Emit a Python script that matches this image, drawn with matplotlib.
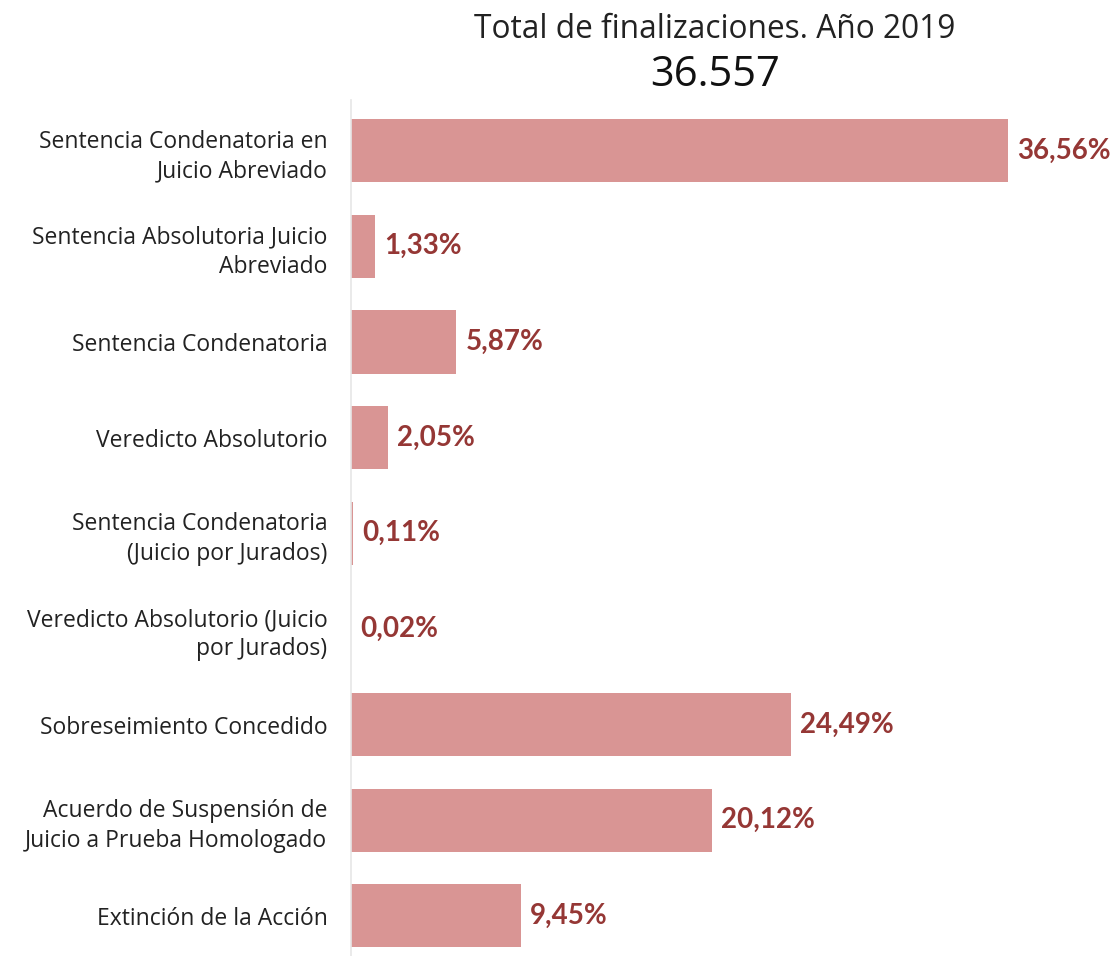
import matplotlib.pyplot as plt
import numpy as np

categorias = [
    "Sentencia Condenatoria en\nJuicio Abreviado",
    "Sentencia Absolutoria Juicio\nAbreviado",
    "Sentencia Condenatoria",
    "Veredicto Absolutorio",
    "Sentencia Condenatoria\n(Juicio por Jurados)",
    "Veredicto Absolutorio (Juicio\npor Jurados)",
    "Sobreseimiento Concedido",
    "Acuerdo de Suspensión de\nJuicio a Prueba Homologado",
    "Extinción de la Acción",
]
porcentajes = [36.56, 1.33, 5.87, 2.05, 0.11, 0.02, 24.49, 20.12, 9.45]
total = "36.557"
anio = 2019

bar_color = "#d99594"
label_color = "#953735"

fig = plt.figure(figsize=(11.18, 9.56), dpi=100)
ax = fig.add_axes([351 / 1118, 0, 1 - 351 / 1118, 856 / 956])

y = np.arange(len(categorias))
ax.barh(y, porcentajes, height=0.66, color=bar_color)
for yi, v in zip(y, porcentajes):
    ax.text(v + 0.5, yi, f"{v:.2f}%".replace(".", ","), va="center", ha="left",
            fontsize=20, fontweight="bold", color=label_color, family="Lato")

ax.set_ylim(8.42, -0.53)
ax.set_xlim(0, 42.7)
ax.set_yticks(y)
ax.set_yticklabels(categorias, fontsize=16.5, family="Open Sans", color="#222222",
                   linespacing=1.3)
ax.tick_params(axis="y", length=0, pad=17)
ax.set_xticks([])
for s in ["top", "right", "bottom"]:
    ax.spines[s].set_visible(False)
ax.spines["left"].set_color("#e6e6e6")
ax.spines["left"].set_linewidth(1.2)

fig.text(715 / 1118, 1 - 30 / 956, f"Total de finalizaciones. Año {anio}",
         ha="center", va="center", fontsize=22.8, family="Open Sans", color="#222222")
fig.text(715 / 1118, 1 - 75 / 956, total, ha="center", va="center",
         fontsize=30, family="Open Sans", color="#111111")

fig.savefig("out.png", dpi=100, facecolor="white")
